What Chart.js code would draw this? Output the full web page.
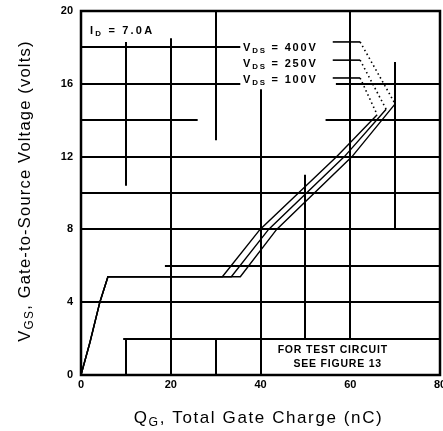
<!DOCTYPE html>
<html>
<head>
<meta charset="utf-8">
<script src="https://cdn.jsdelivr.net/npm/chart.js@4.4.1/dist/chart.umd.min.js"></script>
<style>
  html, body { margin: 0; padding: 0; background: #fff; }
  #wrap { width: 443px; height: 431px; }
</style>
</head>
<body>
<div id="wrap"><canvas id="c" width="443" height="431"></canvas></div>
<script>
// Gate charge curves: total gate charge (nC) vs gate-to-source voltage (V)
const seriesNames = ['400V', '250V', '100V'];

const qgHigh  = [0, 2, 4.2, 6, 35.5, 43.6, 60.4, 70.0];
const vgsHigh = [0, 1.8, 4.0, 5.4, 5.4, 8, 12, 14.9];

const qgMid   = [0, 2, 4.2, 6, 33.5, 41.8, 58.7, 68.0];
const vgsMid  = [0, 1.8, 4.0, 5.4, 5.4, 8, 12, 14.6];

const qgLow   = [0, 2, 4.2, 6, 31.5, 39.9, 57.0, 66.0];
const vgsLow  = [0, 1.8, 4.0, 5.4, 5.4, 8, 12, 14.3];

const xTicks = [0, 20, 40, 60, 80];
const yTicks = [0, 4, 8, 12, 16, 20];

// Grid segments drawn as in the printed sheet: [at, from, to] in axis units
const hGrid = [[18, 0, 35.5], [16, 0, 35.5], [16, 56.8, 80], [14, 0, 26], [14, 54.5, 80],
               [12, 0, 80], [10, 0, 80], [8, 0, 80], [6, 18.7, 80], [4, 0, 80], [2, 9.4, 80]];
const vGrid = [[10, 10.4, 18.3], [10, 0, 2], [20, 0, 18.5], [30, 12.9, 20], [30, 0, 2],
               [40, 0, 15.7], [50, 2, 11], [60, 2, 20], [70, 8, 17.2]];

// Label anchors (axis units)
const labelX = 36.1;
const labelY = [17.97, 17.09, 16.21];
const tickLineX = [56.1, 62.2];
const tickLineY = [18.3, 17.3, 16.32];

const FONT = '"Liberation Sans", Arial, sans-serif';

const pts = (xs, ys) => xs.map((x, i) => ({ x, y: ys[i] }));
const curves = [pts(qgHigh, vgsHigh), pts(qgMid, vgsMid), pts(qgLow, vgsLow)];

const curveSets = curves.map((d, i) => ({
  label: 'VDS = ' + seriesNames[i],
  data: d,
  showLine: true,
  borderColor: '#000',
  borderWidth: 1.4,
  pointRadius: 0,
  tension: 0
}));

// Label leaders: short solid stroke, then dotted run to the end of its curve
const leaderSets = curves.map((d, i) => ({
  label: 'leader ' + i,
  data: [{ x: tickLineX[0], y: tickLineY[i] }, { x: tickLineX[1], y: tickLineY[i] }, d[d.length - 1]],
  showLine: true,
  borderColor: '#000',
  borderWidth: 1.6,
  pointRadius: 0,
  segment: { borderDash: ctx => ctx.p0DataIndex === 1 ? [1.5, 3] : undefined }
}));

function drawRich(ctx, parts, x, y, size, align, weight, spacing) {
  weight = weight || 'normal';
  ctx.letterSpacing = (spacing || 0) + 'px';
  let w = 0;
  for (const p of parts) {
    ctx.font = weight + ' ' + (p.sub ? size * 0.72 : size) + 'px ' + FONT;
    w += ctx.measureText(p.t).width;
  }
  let cx = align === 'center' ? x - w / 2 : (align === 'right' ? x - w : x);
  ctx.textAlign = 'left';
  ctx.textBaseline = 'middle';
  for (const p of parts) {
    ctx.font = weight + ' ' + (p.sub ? size * 0.72 : size) + 'px ' + FONT;
    ctx.fillText(p.t, cx, p.sub ? y + size * 0.3 : y);
    cx += ctx.measureText(p.t).width;
  }
  ctx.letterSpacing = '0px';
}

const sheetGrid = {
  id: 'sheetGrid',
  beforeDatasetsDraw(chart) {
    const { ctx, scales: { x, y } } = chart;
    ctx.save();
    ctx.strokeStyle = '#000';
    ctx.lineWidth = 2;
    ctx.lineCap = 'butt';
    for (const [v, a, b] of hGrid) {
      const py = Math.round(y.getPixelForValue(v));
      ctx.beginPath();
      ctx.moveTo(x.getPixelForValue(a), py);
      ctx.lineTo(x.getPixelForValue(b), py);
      ctx.stroke();
    }
    for (const [v, a, b] of vGrid) {
      const px = Math.round(x.getPixelForValue(v));
      ctx.beginPath();
      ctx.moveTo(px, y.getPixelForValue(a));
      ctx.lineTo(px, y.getPixelForValue(b));
      ctx.stroke();
    }
    ctx.restore();
  },
  afterDatasetsDraw(chart) {
    const { ctx, chartArea: a, scales: { x, y } } = chart;
    ctx.save();
    // frame
    ctx.strokeStyle = '#000';
    ctx.lineWidth = 2.5;
    ctx.strokeRect(a.left, a.top, a.right - a.left, a.bottom - a.top);

    ctx.fillStyle = '#000';
    // drain current note
    drawRich(ctx, [{ t: 'I' }, { t: 'D', sub: true }, { t: ' = 7.0A' }],
      x.getPixelForValue(2.0), y.getPixelForValue(18.9), 11, 'left', 'bold', 2.2);
    // drain-source voltage labels
    seriesNames.forEach((n, i) => {
      drawRich(ctx, [{ t: 'V' }, { t: 'DS', sub: true }, { t: ' = ' + n }],
        x.getPixelForValue(labelX), y.getPixelForValue(labelY[i]), 11, 'left', 'bold', 1.8);
    });
    // test circuit note
    ctx.font = 'bold 10.5px ' + FONT;
    ctx.letterSpacing = '0.8px';
    ctx.textAlign = 'center';
    ctx.textBaseline = 'middle';
    ctx.fillText('FOR TEST CIRCUIT', x.getPixelForValue(56.1), y.getPixelForValue(1.37));
    ctx.fillText('SEE FIGURE 13', x.getPixelForValue(57.2), y.getPixelForValue(0.62));
    ctx.letterSpacing = '0px';

    // axis titles
    drawRich(ctx, [{ t: 'Q' }, { t: 'G', sub: true }, { t: ', Total Gate Charge (nC)' }],
      (a.left + a.right) / 2 - 2, 418, 17, 'center', 'normal', 1.6);
    ctx.translate(25, (a.top + a.bottom) / 2 - 2);
    ctx.rotate(-Math.PI / 2);
    drawRich(ctx, [{ t: 'V' }, { t: 'GS', sub: true }, { t: ', Gate-to-Source Voltage (volts)' }],
      0, 0, 16.5, 'center', 'normal', 1.2);
    ctx.restore();
  }
};

new Chart(document.getElementById('c'), {
  type: 'scatter',
  data: { datasets: [...curveSets, ...leaderSets] },
  options: {
    responsive: false,
    devicePixelRatio: 1,
    animation: false,
    layout: { padding: { left: 0, right: 3, top: 11, bottom: 0 } },
    plugins: { legend: { display: false }, tooltip: { enabled: false } },
    scales: {
      x: {
        type: 'linear', min: 0, max: 80,
        afterBuildTicks: s => { s.ticks = xTicks.map(v => ({ value: v })); },
        ticks: { color: '#000', font: { family: FONT, size: 11, weight: 'bold' }, padding: 3, maxRotation: 0 },
        grid: { display: false, drawTicks: false },
        border: { display: false },
        afterFit: s => { s.height = 56; s.paddingLeft = 0; s.paddingRight = 0; }
      },
      y: {
        type: 'linear', min: 0, max: 20,
        afterBuildTicks: s => { s.ticks = yTicks.map(v => ({ value: v })); },
        ticks: { color: '#000', font: { family: FONT, size: 11, weight: 'bold' }, padding: 8 },
        grid: { display: false, drawTicks: false },
        border: { display: false },
        afterFit: s => { s.width = 81; s.paddingTop = 0; s.paddingBottom = 0; }
      }
    }
  },
  plugins: [sheetGrid]
});
</script>
</body>
</html>
